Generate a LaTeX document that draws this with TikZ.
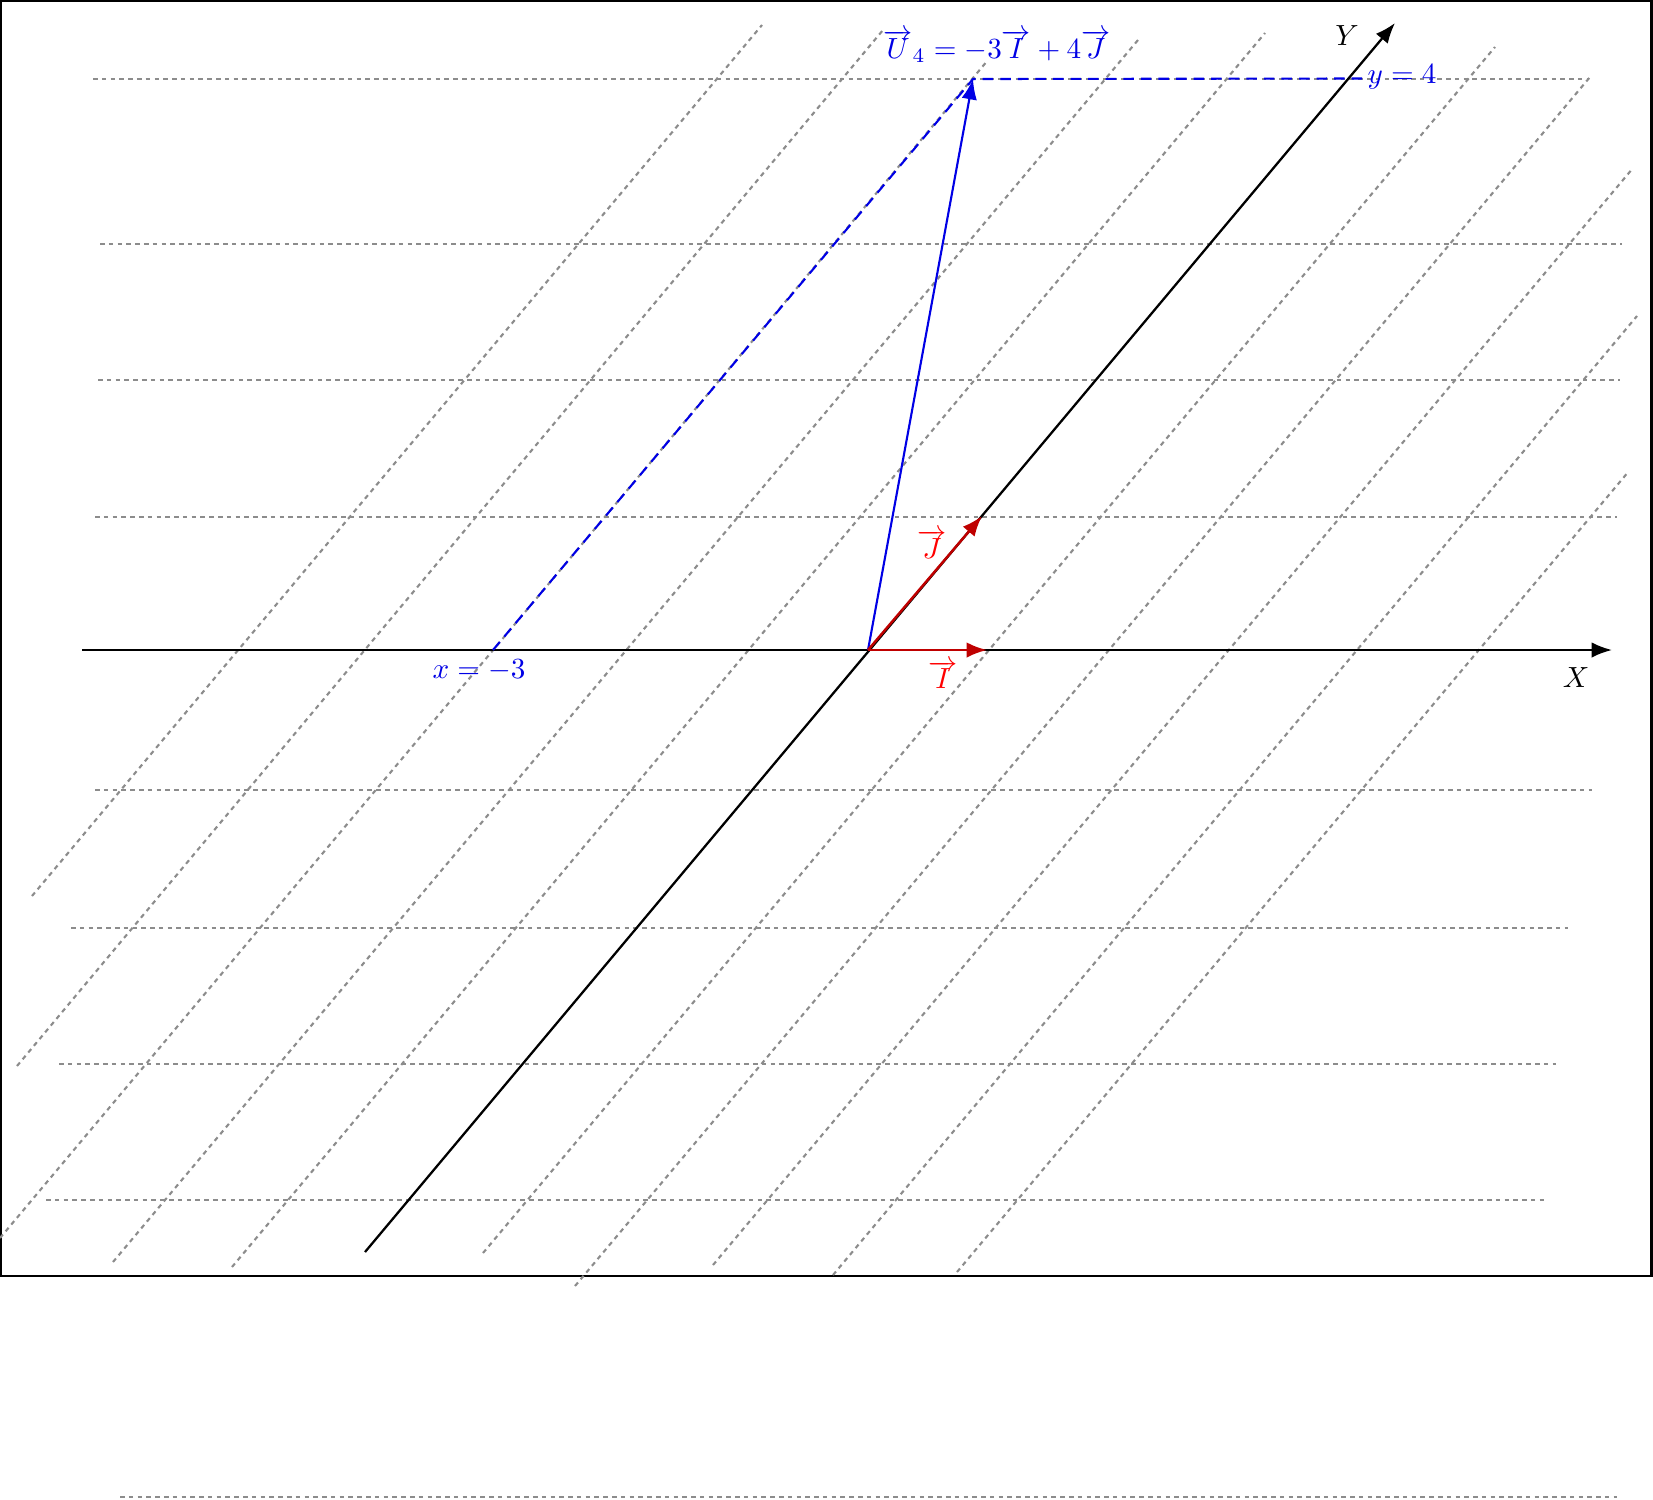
\documentclass[tikz,border=0pt]{standalone}
\usetikzlibrary{arrows.meta}
\tikzset{
  gridline/.style={draw=black!45, line width=0.6pt, dash pattern=on 1.3pt off 1.2pt},
  axisline/.style={draw=black, line width=0.65pt},
  tipped/.style={-{Latex[length=5.8pt,width=4.4pt]}},
  lbl/.style={scale=0.83, inner sep=0pt, anchor=base},
  bluevec/.style={draw=blue!90!black, line width=0.6pt},
  redvec/.style={draw=red!75!black, line width=0.7pt},
}
\begin{document}
\begin{tikzpicture}[x=0.1mm,y=-0.1mm]
\useasboundingbox (0,0) rectangle (1653,1499);
% frame
\draw[line width=0.7pt] (1.2,1.2) rectangle (1651.5,1276);
% horizontal grid lines
\foreach \ya/\xa/\xb in {79/93/1588, 244/100/1622, 380/98/1620, 517/95/1617,
  790/95/1592, 928/71/1568, 1064/59/1556, 1200/46/1544, 1497/120/1617}
  \draw[gridline] (\xa,\ya) -- (\xb,\ya);
% oblique grid lines
\foreach \xa/\ya/\xb/\yb in {32/896/762/25, 17/1066/883/30, 0/1238/988/60,
  113/1262/1138/40, 232/1267/1265/33, 483/1253/1495/47, 575/1286/1590/77,
  713/1265/1633/168, 833/1275/1637/316, 957/1272/1629/471}
  \draw[gridline] (\xa,\ya) -- (\xb,\yb);
% named points
\coordinate (O) at (868,650);
\coordinate (Xs) at (82,650);
\coordinate (Xe) at (1612,650);
\coordinate (Ys) at (365,1252);
\coordinate (Ye) at (1395,23);
\coordinate (It) at (987,650);
\coordinate (Jt) at (982,516);
\coordinate (Ut) at (973,79);
\coordinate (Xm3) at (493,650);
\coordinate (Y4) at (1362,78.5);
% axes
\draw[axisline, tipped] (Xs) -- (Xe);
\draw[axisline, tipped] (Ys) -- (Ye);
% construction lines
\draw[bluevec, densely dashed] (Xm3) -- (Ut) -- (Y4);
% vectors
\draw[bluevec, tipped] (O) -- (Ut);
\draw[redvec, tipped] (O) -- (It);
\draw[redvec, tipped] (O) -- (Jt);
% labels
\node[lbl] (lX) at (1576,687) {$X$};
\node[lbl] (lY) at (1347,45) {$Y$};
\node[lbl, text=red] (lI) at (943,688) {$\overrightarrow{I}$};
\node[lbl, text=red] (lJ) at (932,558) {$\overrightarrow{J}$};
\node[lbl, text=blue!90!black] (lx) at (479,678) {$x=-3$};
\node[lbl, text=blue!90!black] (ly) at (1402,83) {$y=4$};
\node[lbl, text=blue!90!black] (lU) at (997,58) {$\overrightarrow{U}_4=-3\overrightarrow{I}+4\overrightarrow{J}$};
\end{tikzpicture}
\end{document}
